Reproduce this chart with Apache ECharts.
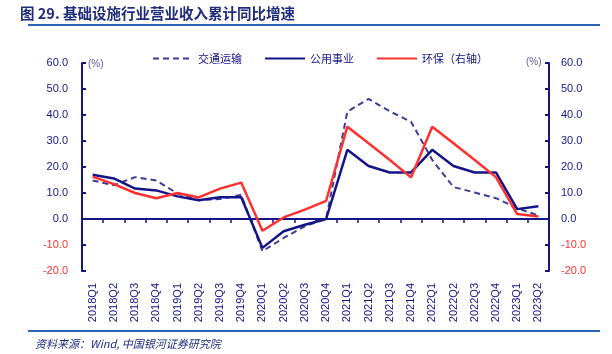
<!DOCTYPE html>
<html>
<head>
<meta charset="utf-8">
<script src="https://cdn.jsdelivr.net/npm/echarts@6/dist/echarts.min.js"></script>
<style>
  html, body { margin: 0; padding: 0; background: #fff; }
  #chart { width: 612px; height: 354px; }
</style>
</head>
<body>
<div id="chart"></div>
<script>
// quarters on the x axis
const quarters = [
  '2018Q1', '2018Q2', '2018Q3', '2018Q4', '2019Q1', '2019Q2', '2019Q3', '2019Q4',
  '2020Q1', '2020Q2', '2020Q3', '2020Q4', '2021Q1', '2021Q2', '2021Q3', '2021Q4',
  '2022Q1', '2022Q2', '2022Q3', '2022Q4', '2023Q1', '2023Q2'
];
// cumulative YoY revenue growth, %
const transport = [14.8, 13.0, 16.1, 14.8, 9.8, 7.2, 7.7, 9.3, -12.4, -7.3, -2.8, 0.0,
  41.3, 46.2, 41.4, 37.4, 22.7, 12.3, 10.2, 8.0, 4.2, 1.3];
const utilities = [17.0, 15.6, 11.7, 11.0, 8.7, 7.2, 8.4, 8.4, -11.1, -4.7, -2.2, 0.0,
  26.6, 20.4, 17.9, 17.9, 26.6, 20.4, 17.9, 17.9, 3.8, 4.9];
const environ = [16.3, 13.4, 10.0, 8.0, 10.0, 8.3, 11.7, 14.0, -4.5, 0.6, 3.6, 7.0,
  35.5, 29.1, 22.7, 16.0, 35.5, 29.1, 22.7, 16.1, 1.9, 1.0];
const seriesNames = ['交通运输', '公用事业', '环保（右轴）'];

const navy = '#141487';
const red = '#ff3030';
const labelColor = v => (Number(v) < 0 ? red : navy);

const chart = echarts.init(document.getElementById('chart'));

const yAxisBase = {
  type: 'value',
  min: -20,
  max: 60,
  interval: 10,
  splitLine: { show: false },
  axisLine: { show: true, onZero: false, lineStyle: { color: navy, width: 2 } },
  axisTick: { show: true, inside: true, length: 4, lineStyle: { color: navy, width: 2 } }
};

chart.setOption({
  animation: false,
  textStyle: { fontFamily: 'Liberation Sans, Arial, sans-serif' },
  grid: { left: 82, right: 63, top: 63, bottom: 83, containLabel: false, outerBoundsMode: 'none' },
  graphic: [
    {
      type: 'text', left: 20, top: 6,
      style: {
        text: '图 29. 基础设施行业营业收入累计同比增速',
        fill: '#1f2c7c', font: 'bold 14.5px "Noto Sans CJK SC", serif'
      }
    },
    { type: 'rect', shape: { x: 28, y: 24, width: 572, height: 2 }, style: { fill: '#2b63b5' } },
    { type: 'rect', shape: { x: 28, y: 330, width: 572, height: 2 }, style: { fill: '#2b63b5' } },
    {
      type: 'text', left: 35, top: 338,
      style: {
        text: '资料来源：Wind, 中国银河证券研究院',
        fill: '#1f2c7c', font: 'italic 11px "Noto Sans CJK SC", serif'
      }
    },
    { type: 'text', left: 88, top: 59, style: { text: '(%)', fill: '#5a5aa6', font: '10px "Liberation Sans", Arial' } },
    { type: 'text', left: 526, top: 57, style: { text: '(%)', fill: '#5a5aa6', font: '10px "Liberation Sans", Arial' } }
  ],
  legend: {
    left: 147,
    top: 48,
    itemWidth: 40,
    itemHeight: 14,
    itemGap: 22,
    data: seriesNames,
    itemStyle: { opacity: 0 },
    textStyle: { color: navy, fontSize: 11, fontFamily: '"Noto Sans CJK SC", sans-serif' }
  },
  xAxis: {
    type: 'category',
    data: quarters,
    axisLine: { onZero: true, lineStyle: { color: navy, width: 2 } },
    axisTick: { show: true, length: 4, lineStyle: { color: navy, width: 1.5 } },
    axisLabel: { rotate: 90, margin: 12, color: navy, fontSize: 11, interval: 0 }
  },
  yAxis: [
    Object.assign({}, yAxisBase, {
      position: 'left',
      axisLabel: { margin: 14, fontSize: 11, color: labelColor, formatter: v => v.toFixed(1) }
    }),
    Object.assign({}, yAxisBase, {
      position: 'right',
      axisLabel: { margin: 12, fontSize: 11, color: labelColor, formatter: v => v.toFixed(1) }
    })
  ],
  series: [
    {
      name: seriesNames[0], type: 'line', data: transport, symbol: 'none',
      lineStyle: { color: '#3c3c98', width: 2, type: [6, 4] }, itemStyle: { color: '#3c3c98' }
    },
    {
      name: seriesNames[1], type: 'line', data: utilities, symbol: 'none',
      lineStyle: { color: navy, width: 2.5 }, itemStyle: { color: navy }
    },
    {
      name: seriesNames[2], type: 'line', yAxisIndex: 1, data: environ, symbol: 'none',
      lineStyle: { color: red, width: 2.5 }, itemStyle: { color: red }
    }
  ]
});
</script>
</body>
</html>
